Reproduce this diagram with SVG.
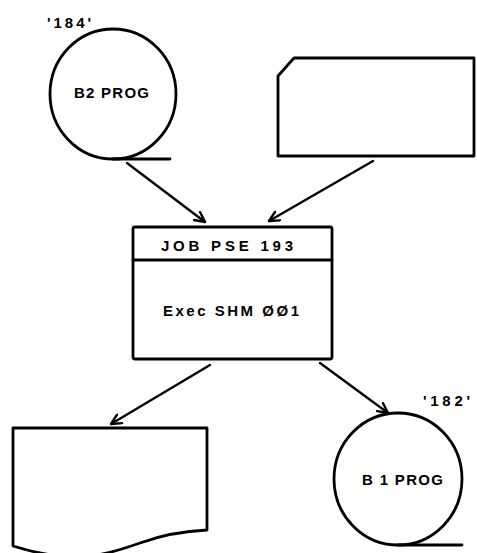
<svg xmlns="http://www.w3.org/2000/svg" width="477" height="553" viewBox="0 0 477 553">
<style>
.s{fill:none;stroke:#000;stroke-width:2.8;stroke-linejoin:round;stroke-linecap:round}
.c{fill:none;stroke:#000;stroke-width:2.4;stroke-linecap:round}
.t{font-family:"Liberation Sans",Arial,sans-serif;font-weight:bold;font-size:15px;fill:#000}
</style>
<defs>
<marker id="ah" viewBox="0 0 12 12" refX="11" refY="6" markerWidth="12" markerHeight="12" markerUnits="userSpaceOnUse" orient="auto">
<polyline points="1,1 11,6 1,11" fill="none" stroke="#000" stroke-width="2.4" stroke-linecap="round" stroke-linejoin="round"/>
</marker>
</defs>
<rect width="477" height="553" fill="#fff"/>
<g id="b2prog">
<ellipse class="s" cx="113" cy="94" rx="63" ry="65"/>
<line class="s" x1="113" y1="159" x2="170" y2="159"/>
<text class="t" x="74" y="98" textLength="75" lengthAdjust="spacing">B2 PROG</text>
<text class="t" x="47" y="28" textLength="44" lengthAdjust="spacing">'184'</text>
</g>
<g id="card">
<path class="s" d="M294,58 L474,58 L474,156 L278,156 L278,76 Z"/>
</g>
<g id="job">
<rect class="s" x="133" y="227" width="199" height="132" rx="2"/>
<line class="s" x1="133" y1="260" x2="332" y2="260"/>
<text class="t" x="161" y="251" textLength="132" lengthAdjust="spacing">JOB PSE 193</text>
<text class="t" x="163" y="316" textLength="136" lengthAdjust="spacing">Exec SHM ØØ1</text>
</g>
<g id="doc">
<path class="s" d="M13,428 L207,428 L207,530 C185,531 165,534 140,543 C118,551 100,556 80,557 C55,557 35,553 13,546 Z"/>
</g>
<g id="b1prog">
<ellipse class="s" cx="398" cy="479" rx="64" ry="66"/>
<line class="s" x1="398" y1="545" x2="462" y2="545"/>
<text class="t" x="362" y="485" textLength="81" lengthAdjust="spacing">B 1 PROG</text>
<text class="t" x="423" y="406" textLength="47" lengthAdjust="spacing">'182'</text>
</g>
<g id="connectors">
<line class="c" x1="127" y1="163" x2="205" y2="222" marker-end="url(#ah)"/>
<line class="c" x1="373" y1="161" x2="269" y2="221" marker-end="url(#ah)"/>
<line class="c" x1="210" y1="365" x2="111" y2="424" marker-end="url(#ah)"/>
<line class="c" x1="320" y1="363" x2="388" y2="413" marker-end="url(#ah)"/>
</g>
</svg>
